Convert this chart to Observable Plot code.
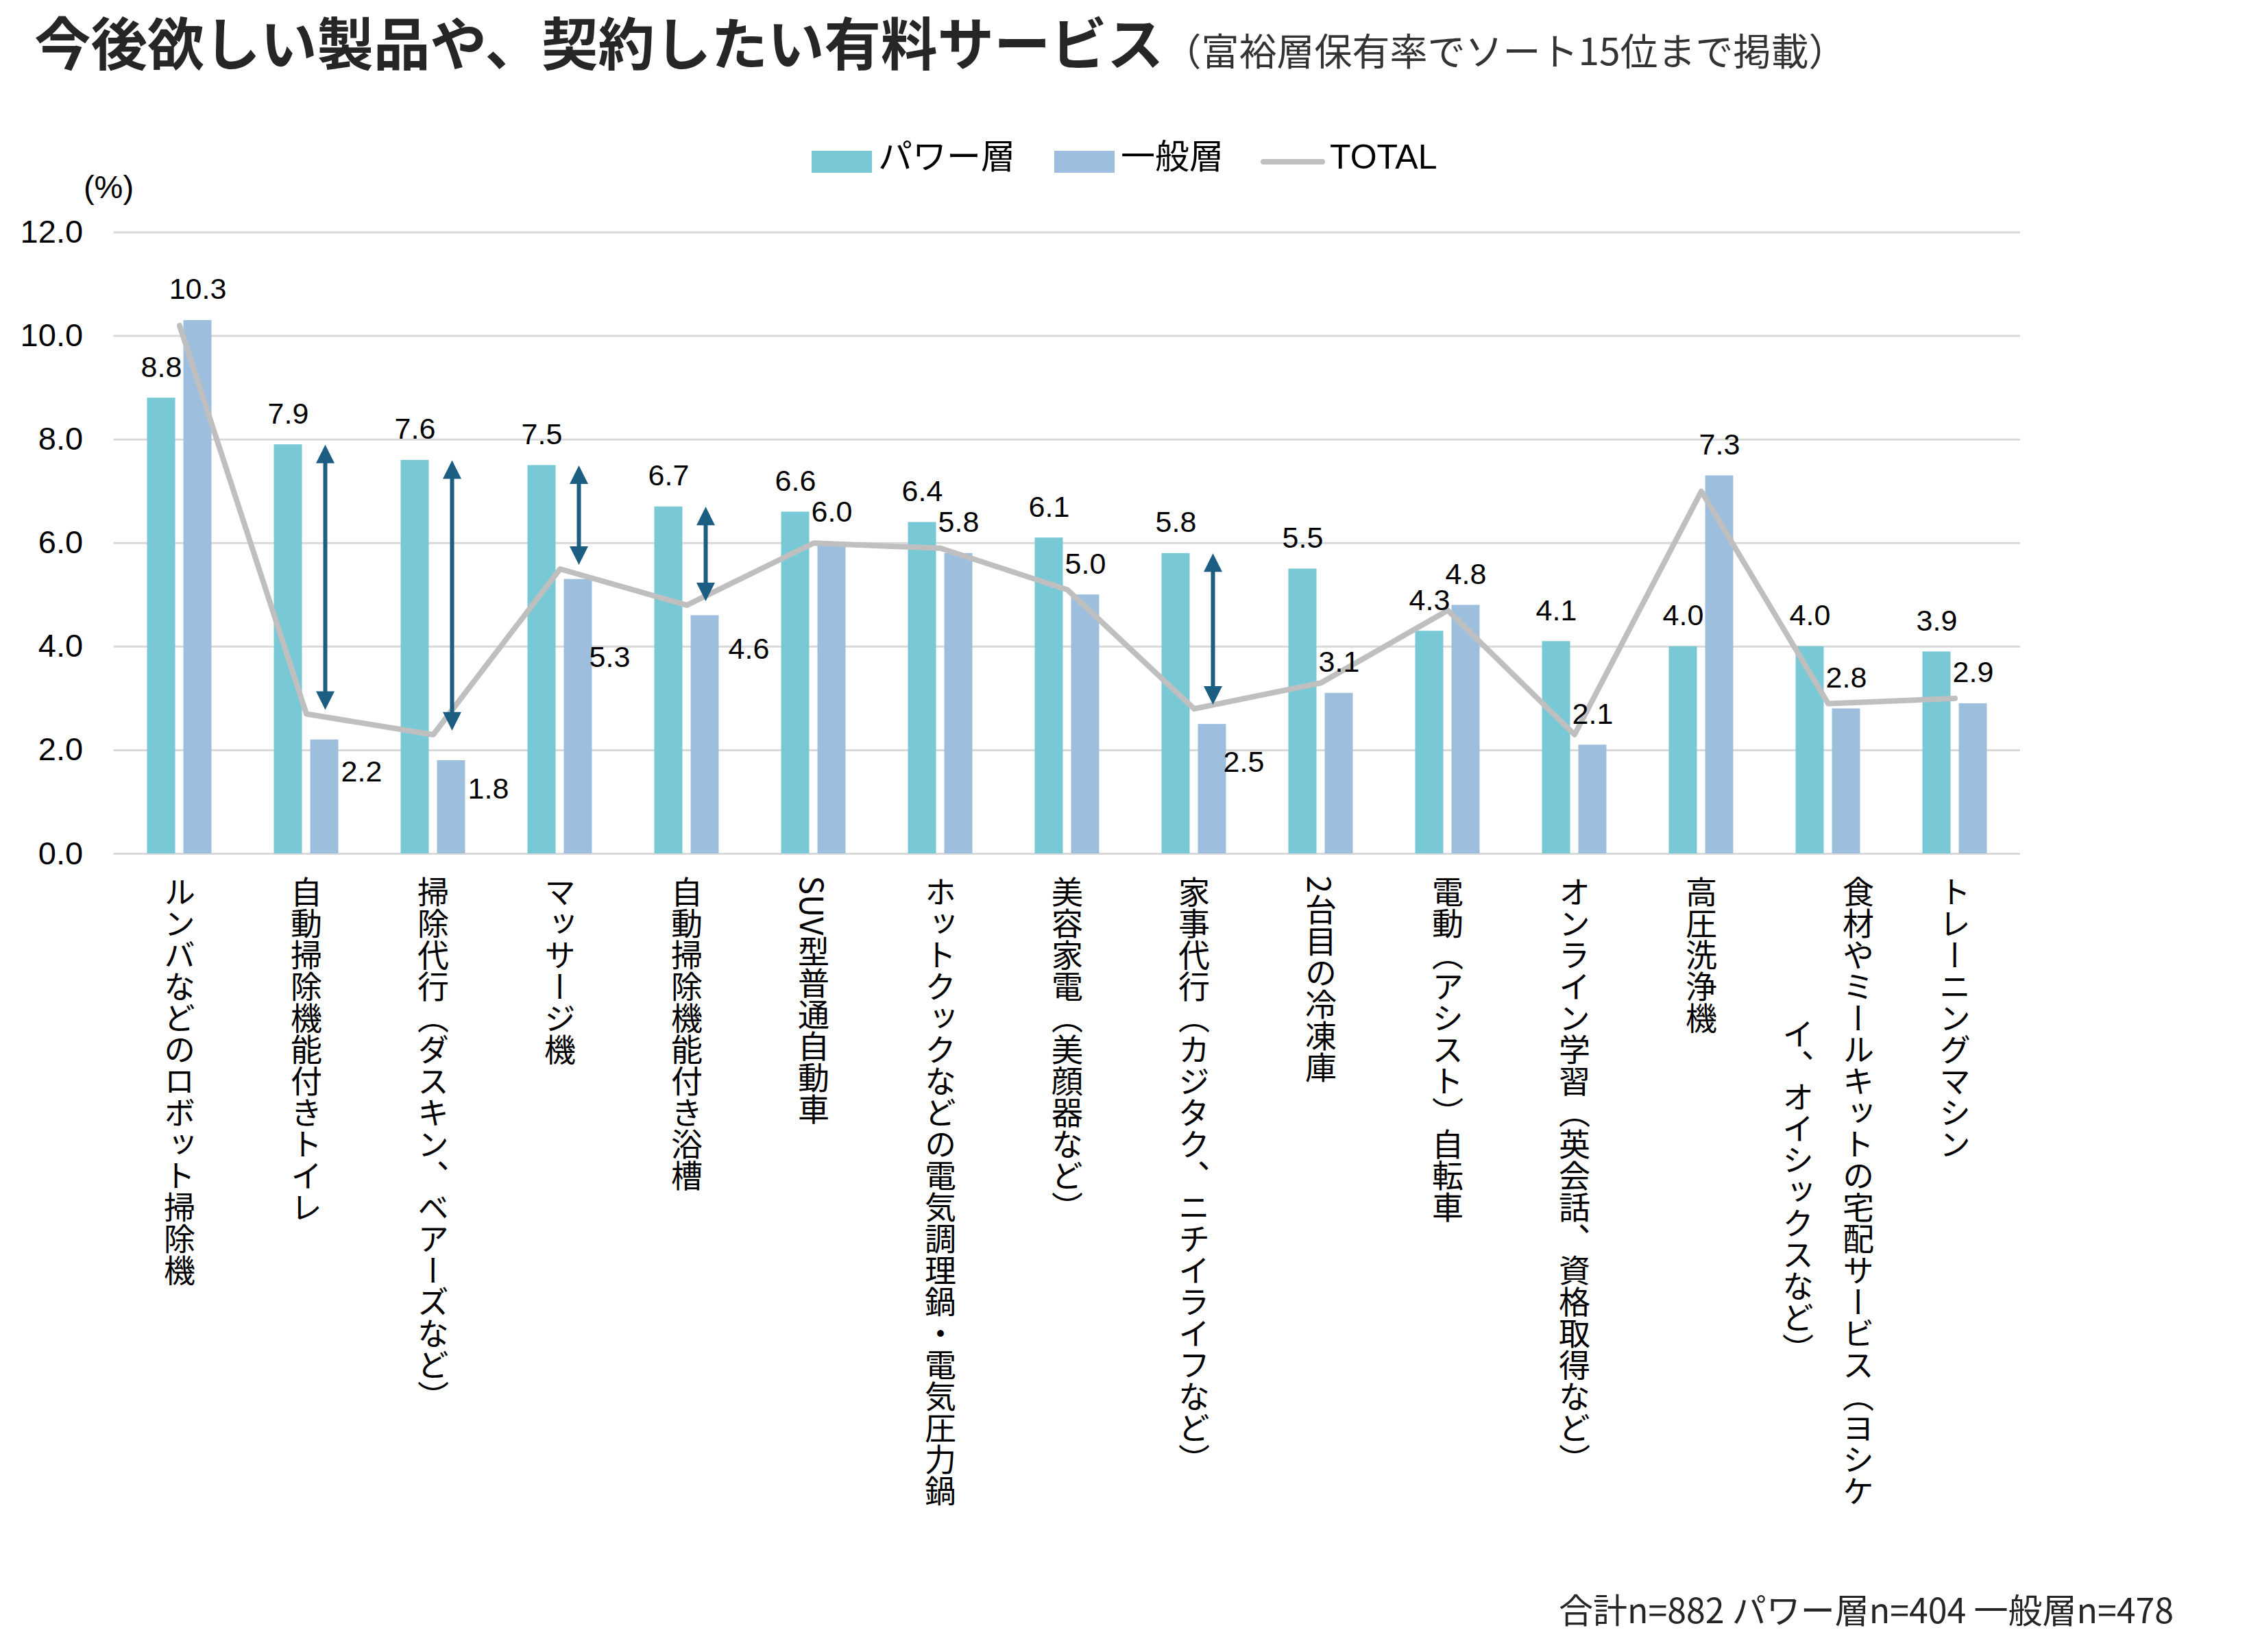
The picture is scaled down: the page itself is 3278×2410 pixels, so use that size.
<!DOCTYPE html>
<html lang="ja">
<head>
<meta charset="utf-8">
<script src="https://cdn.jsdelivr.net/npm/d3@7"></script>
<script src="https://cdn.jsdelivr.net/npm/@observablehq/plot@0.6"></script>
<style>
  html, body { margin: 0; padding: 0; background: #fff; }
  body { width: 3278px; height: 2410px; position: relative; overflow: hidden;
         font-family: "Liberation Sans", "Noto Sans CJK JP", sans-serif; color: #000; }
  #title { position: absolute; left: 50px; top: 18px; white-space: nowrap; line-height: 1;
           font-family: "Noto Sans CJK JP", sans-serif; }
  #title .main { font-size: 82.5px; font-weight: 700; color: #262626; }
  #title .sub { font-size: 55px; font-weight: 400; color: #333; }
  .leg { position: absolute; top: 202px; height: 60px; display: flex; align-items: center;
         font-size: 50px; line-height: 1; white-space: nowrap; }
  .leg .sw { width: 88px; height: 32px; margin-right: 9px; position: relative; top: 4px; }
  .leg .ln { width: 94px; height: 8px; border-radius: 4px; margin-right: 7px; position: relative; top: 4px; }
  .leg .tx { position: relative; top: -3px; }
  #chart { position: absolute; left: 0; top: 240px; }
  #caption { position: absolute; right: 107px; top: 2321px; font-size: 50px; line-height: 1;
             font-family: "Noto Sans CJK JP", sans-serif; color: #262626; white-space: nowrap; }
</style>
</head>
<body>
<div id="title"><span class="main">今後欲しい製品や、契約したい有料サービス</span><span class="sub">（富裕層保有率でソート15位まで掲載）</span></div>
<div id="legend"></div>
<div id="chart"></div>
<div id="caption"></div>
<script>
// ---------- data ----------
const categories = [
  "ルンバなどのロボット掃除機",
  "自動掃除機能付きトイレ",
  "掃除代行（ダスキン、ベアーズなど）",
  "マッサージ機",
  "自動掃除機能付き浴槽",
  "SUV型普通自動車",
  "ホットクックなどの電気調理鍋・電気圧力鍋",
  "美容家電（美顔器など）",
  "家事代行（カジタク、ニチイライフなど）",
  "2台目の冷凍庫",
  "電動（アシスト）自転車",
  "オンライン学習（英会話、資格取得など）",
  "高圧洗浄機",
  "食材やミールキットの宅配サービス（ヨシケイ、オイシックスなど）",
  "トレーニングマシン"
];
const powerValues = [8.8, 7.9, 7.6, 7.5, 6.7, 6.6, 6.4, 6.1, 5.8, 5.5, 4.3, 4.1, 4.0, 4.0, 3.9];
const ippanValues = [10.3, 2.2, 1.8, 5.3, 4.6, 6.0, 5.8, 5.0, 2.5, 3.1, 4.8, 2.1, 7.3, 2.8, 2.9];
const totalValues = [10.2, 2.7, 2.3, 5.5, 4.8, 6.0, 5.9, 5.1, 2.8, 3.3, 4.7, 2.3, 7.0, 2.9, 3.0];
const yTicks = [0, 2, 4, 6, 8, 10, 12];
const seriesNames = ["パワー層", "一般層", "TOTAL"];
const arrowCategories = [
  "自動掃除機能付きトイレ",
  "掃除代行（ダスキン、ベアーズなど）",
  "マッサージ機",
  "自動掃除機能付き浴槽",
  "家事代行（カジタク、ニチイライフなど）"
];
const captionText = "合計n=882 パワー層n=404 一般層n=478";

// ---------- layout / style config ----------
const colors = { power: "#79c8d6", ippan: "#9dbfdd", total: "#bfbfbf", arrow: "#1b5e82", grid: "#d9d9d9" };
const BAR_OFFSET = 26.5;          // px offset of each bar from the category centre
const BAR_INSET = 72;             // px inset -> bar width
// label nudges (px) for 一般層 labels that sit beside the bar instead of above it
const ippanLabelNudge = {
  "自動掃除機能付きトイレ": [54, 61],
  "掃除代行（ダスキン、ベアーズなど）": [54, 55],
  "マッサージ機": [46, 128],
  "自動掃除機能付き浴槽": [64, 63],
  "家事代行（カジタク、ニチイライフなど）": [46, 69]
};

// ---------- legend & caption ----------
const legend = document.getElementById("legend");
legend.innerHTML =
  `<div class="leg" style="left:1184px"><div class="sw" style="background:${colors.power}"></div><span class="tx">${seriesNames[0]}</span></div>` +
  `<div class="leg" style="left:1538px"><div class="sw" style="background:${colors.ippan}"></div><span class="tx">${seriesNames[1]}</span></div>` +
  `<div class="leg" style="left:1839px"><div class="ln" style="background:${colors.total}"></div><span class="tx">${seriesNames[2]}</span></div>`;
document.getElementById("caption").textContent = captionText;

// ---------- chart ----------
const data = categories.map((c, i) => ({ category: c, power: powerValues[i], ippan: ippanValues[i], total: totalValues[i] }));
const arrowData = data.filter(d => arrowCategories.includes(d.category));
const fmt = v => v.toFixed(1);

const upHead = { draw(ctx, size) { const r = Math.sqrt(size / Math.PI); ctx.moveTo(0, 0); ctx.lineTo(r, 2 * r); ctx.lineTo(-r, 2 * r); ctx.closePath(); } };
const downHead = { draw(ctx, size) { const r = Math.sqrt(size / Math.PI); ctx.moveTo(0, 0); ctx.lineTo(r, -2 * r); ctx.lineTo(-r, -2 * r); ctx.closePath(); } };

const nudgeMarks = Object.entries(ippanLabelNudge).map(([cat, [ndx, ndy]]) =>
  Plot.text(data.filter(d => d.category === cat), {
    x: "category", y: "ippan", text: d => fmt(d.ippan),
    dx: BAR_OFFSET + ndx, dy: ndy, lineAnchor: "bottom", fontSize: 43, fill: "#000"
  })
);

const svg = Plot.plot({
  width: 3278, height: 1990,
  marginTop: 98.5, marginBottom: 985, marginLeft: 165.6, marginRight: 331,
  style: { fontFamily: '"Liberation Sans","Noto Sans CJK JP",sans-serif', fontSize: "47px", background: "transparent", overflow: "visible", color: "#000" },
  x: { domain: categories, padding: 0, axis: null },
  y: { domain: [0, 12], axis: null },
  marks: [
    Plot.ruleY(yTicks, { stroke: colors.grid, strokeWidth: 3 }),
    Plot.axisY(yTicks, { tickSize: 0, tickPadding: 45, tickFormat: fmt, fontSize: 47, label: null }),
    Plot.text(["(%)"], { frameAnchor: "top-left", text: d => d, textAnchor: "middle", lineAnchor: "middle", dx: -7.6, dy: -65.5, fontSize: 47 }),
    Plot.barY(data, { x: "category", y: "power", fill: colors.power, dx: -BAR_OFFSET, insetLeft: BAR_INSET, insetRight: BAR_INSET }),
    Plot.barY(data, { x: "category", y: "ippan", fill: colors.ippan, dx: BAR_OFFSET, insetLeft: BAR_INSET, insetRight: BAR_INSET }),
    Plot.line(data, { x: "category", y: "total", stroke: colors.total, strokeWidth: 8, strokeLinejoin: "round", strokeLinecap: "round" }),
    Plot.ruleX(arrowData, { x: "category", y1: "power", y2: "total", dx: BAR_OFFSET + 1, stroke: colors.arrow, strokeWidth: 6, insetTop: 20, insetBottom: 26 }),
    Plot.dot(arrowData, { x: "category", y: "power", dx: BAR_OFFSET + 1, symbol: upHead, r: 13.5, fill: colors.arrow, stroke: "none" }),
    Plot.dot(arrowData, { x: "category", y: "total", dx: BAR_OFFSET + 1, dy: -6, symbol: downHead, r: 13.5, fill: colors.arrow, stroke: "none" }),
    Plot.text(data, { x: "category", y: "power", text: d => fmt(d.power), dx: -BAR_OFFSET, dy: -31, lineAnchor: "bottom", fontSize: 43, fill: "#000" }),
    Plot.text(data.filter(d => !(d.category in ippanLabelNudge)), { x: "category", y: "ippan", text: d => fmt(d.ippan), dx: BAR_OFFSET, dy: -31, lineAnchor: "bottom", fontSize: 43, fill: "#000" }),
    ...nudgeMarks,
    Plot.text(categories, { x: d => d, text: d => d, frameAnchor: "bottom", dy: 32, textAnchor: "start", lineAnchor: "top",
      fontSize: 46, fontFamily: '"Noto Sans CJK JP", sans-serif', fill: "#000" })
  ]
});
document.getElementById("chart").appendChild(svg);

// vertical (tategaki) category labels, wrapped at 20 characters, lines centred
const FS = 46, COL_GAP = 88, MAX_CHARS = 20;
const catSet = new Set(categories);
svg.querySelectorAll("text").forEach(el => {
  const full = el.textContent;
  if (!catSet.has(full)) return;
  const chars = Array.from(full);
  const lines = [];
  for (let i = 0; i < chars.length; i += MAX_CHARS) lines.push(chars.slice(i, i + MAX_CHARS).join(""));
  while (el.firstChild) el.removeChild(el.firstChild);
  el.removeAttribute("y");
  el.setAttribute("writing-mode", "vertical-rl");
  el.style.writingMode = "vertical-rl";
  el.style.textOrientation = "mixed";
  const n = lines.length;
  el.setAttribute("text-anchor", n > 1 ? "middle" : "start");
  lines.forEach((ln, j) => {
    const t = document.createElementNS("http://www.w3.org/2000/svg", "tspan");
    t.setAttribute("x", ((n - 1) / 2 - j) * COL_GAP);
    t.setAttribute("y", n > 1 ? MAX_CHARS * FS / 2 : 0);
    t.textContent = ln;
    el.appendChild(t);
  });
});
</script>
</body>
</html>
